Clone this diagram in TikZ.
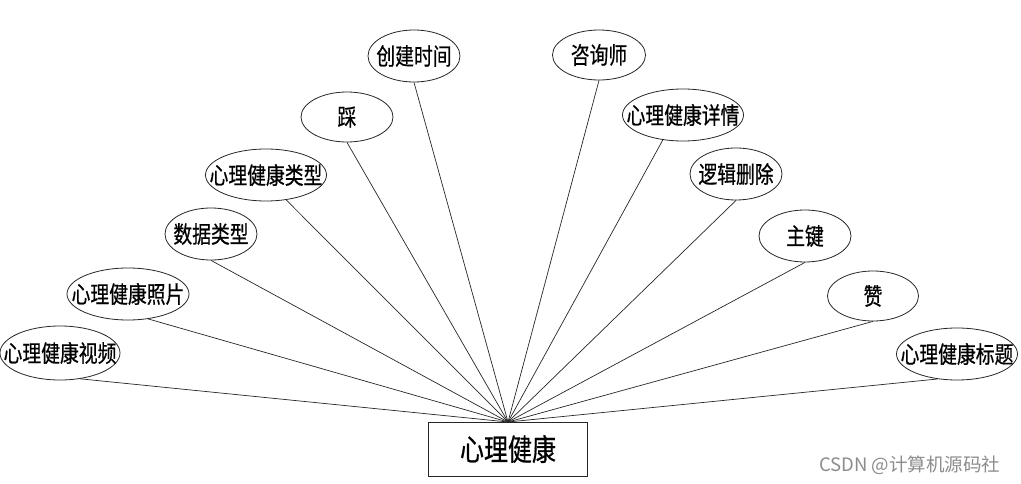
\documentclass[tikz,border=0pt]{standalone}
\usepackage{fontspec}
\usetikzlibrary{shapes.geometric}
\newfontfamily\cjk[FakeStretch=0.8,FakeBold=0.6]{Noto Sans CJK SC}
\newfontfamily\cjkplain{Noto Sans CJK SC}
\newcommand{\zw}[1]{\makebox[0pt]{#1}}
\begin{document}
\begin{tikzpicture}[x=1pt,y=-1pt,
  attr/.style={ellipse,draw=black!85,line width=0.8pt,inner sep=0pt,font=\cjk\fontsize{23.5}{26}\selectfont},
  ent/.style={rectangle,draw=black!85,line width=0.9pt,minimum width=159pt,minimum height=54pt,inner sep=0pt,font=\cjk\fontsize{30}{34}\selectfont},
  link/.style={draw=black!85,line width=0.7pt}]
\useasboundingbox (0,0) rectangle (1021,484);
\node[ent] (e) at (508,449) {心理健康};
\coordinate (hub) at (508,422);
\node[attr,minimum width=120pt,minimum height=54pt] (v1) at (60,353) {\zw{心理健康视频}};
\node[attr,minimum width=122pt,minimum height=52pt] (v2) at (128,294) {\zw{心理健康照片}};
\node[attr,minimum width=92pt,minimum height=52pt] (v3) at (211,234) {\zw{数据类型}};
\node[attr,minimum width=121pt,minimum height=52pt] (v4) at (266,175) {\zw{心理健康类型}};
\node[attr,minimum width=92pt,minimum height=50pt] (v5) at (347,117) {\zw{踩}};
\node[attr,minimum width=92pt,minimum height=52pt] (v6) at (414,56) {\zw{创建时间}};
\node[attr,minimum width=93pt,minimum height=50pt] (v7) at (599,55) {\zw{咨询师}};
\node[attr,minimum width=121pt,minimum height=52pt] (v8) at (683,115) {\zw{心理健康详情}};
\node[attr,minimum width=92pt,minimum height=52pt] (v9) at (736,174) {\zw{逻辑删除}};
\node[attr,minimum width=92pt,minimum height=52pt] (v10) at (805,236) {\zw{主键}};
\node[attr,minimum width=91pt,minimum height=50pt] (v11) at (873,296) {\zw{赞}};
\node[attr,minimum width=121pt,minimum height=52pt] (v12) at (957,354) {\zw{心理健康标题}};
\draw[link] (v1.-52) -- (hub);
\draw[link] (v2.-51) -- (hub);
\draw[link] (v3.south) -- (hub);
\draw[link] (v4.-51) -- (hub);
\draw[link] (v5.south) -- (hub);
\draw[link] (v6.south) -- (hub);
\draw[link] (v7.south) -- (hub);
\draw[link] (v8.-129) -- (hub);
\draw[link] (v9.south) -- (hub);
\draw[link] (v10.south) -- (hub);
\draw[link] (v11.south) -- (hub);
\draw[link] (v12.-128) -- (hub);
\node[text=black!45,font=\cjkplain\fontsize{18.5}{21}\selectfont,anchor=east] (wm) at (1004,465) {CSDN @计算机源码社};
\end{tikzpicture}
\end{document}
